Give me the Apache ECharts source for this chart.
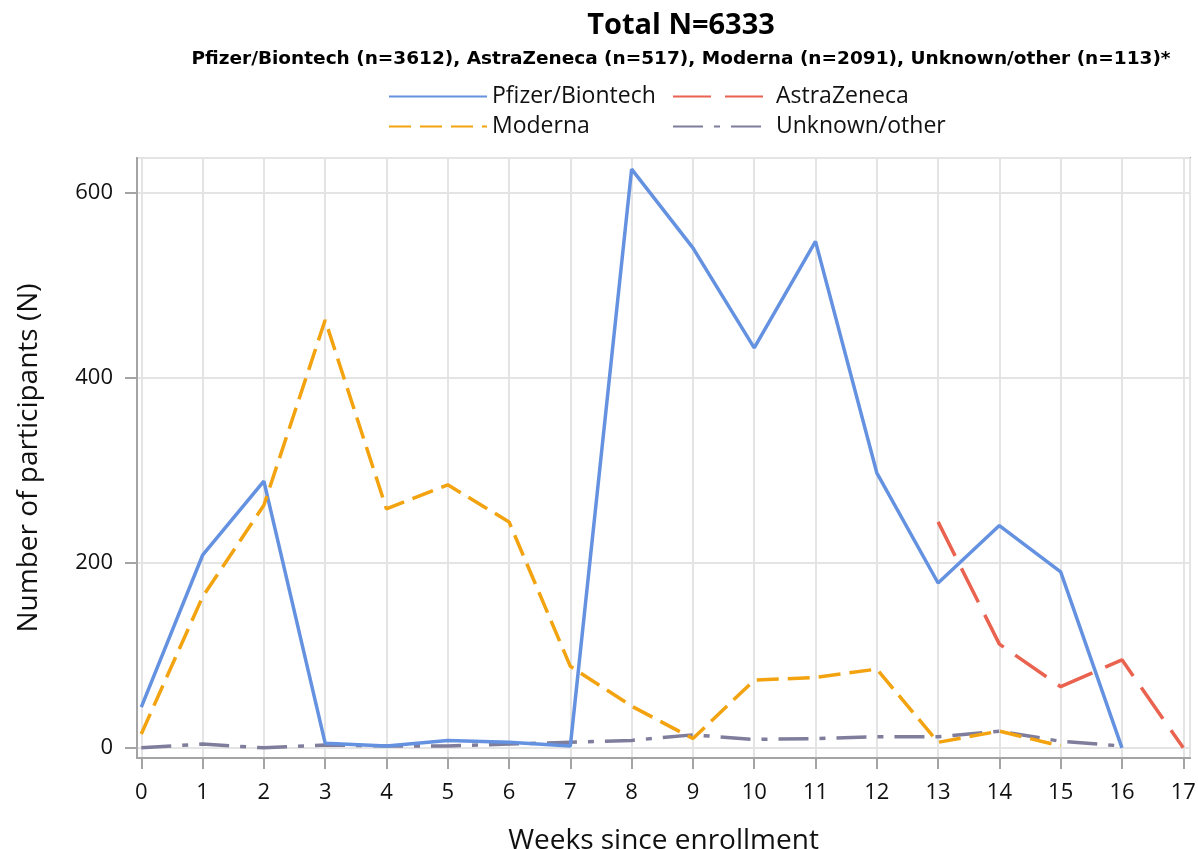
<!DOCTYPE html>
<html>
<head>
<meta charset="utf-8">
<script src="https://cdn.jsdelivr.net/npm/echarts@6/dist/echarts.min.js"></script>
<style>
  html, body { margin: 0; padding: 0; background: #fff; }
  #main { width: 1198px; height: 849px; }
</style>
</head>
<body>
<div id="main"></div>
<script>
// weeks since enrollment (x ticks)
var weeks = [0, 1, 2, 3, 4, 5, 6, 7, 8, 9, 10, 11, 12, 13, 14, 15, 16, 17];
var yTicks = [0, 200, 400, 600];

// number of participants per week, null = no point
var pfizer      = [44, 208, 288, 5, 2, 8, 6, 2, 625, 540, 432, 547, 297, 178, 240, 190, 0, null];
var astraZeneca = [null, null, null, null, null, null, null, null, null, null, null, null, null, 244, 112, 66, 95, 0];
var moderna     = [15, 163, 262, 462, 258, 284, 244, 88, 45, 10, 73, 76, 85, 6, 18, 2, null, null];
var unknown     = [0, 4, 0, 3, 2, 2, 4, 6, 8, 14, 9, 10, 12, 12, 18, 7, 2, null];

var FONT = '"Open Sans", "Liberation Sans", sans-serif';
var AXIS_GREY = '#a4a4a4';

// turn a value list into [week, value] pairs
function pairs(arr) {
  var out = [];
  for (var i = 0; i < arr.length; i++) {
    if (arr[i] !== null) out.push([weeks[i], arr[i]]);
  }
  return out;
}

function lineSeries(name, data, color, dash) {
  return {
    name: name,
    type: 'line',
    data: pairs(data),
    symbol: 'none',
    smooth: false,
    lineStyle: { color: color, width: 3.5, type: dash },
    itemStyle: { color: color },
    emphasis: { disabled: true }
  };
}

// legend column, no marker dot on the line sample
function legendCol(names, left) {
  return {
    data: names,
    orient: 'vertical',
    left: left,
    top: 80,
    itemWidth: 98,
    itemHeight: 14,
    itemGap: 7,
    itemStyle: { opacity: 0 },
    textStyle: { fontSize: 23, color: '#111', fontFamily: FONT }
  };
}

var chart = echarts.init(document.getElementById('main'));
chart.setOption({
  animation: false,
  textStyle: { fontFamily: FONT },
  title: {
    text: 'Total N=6333',
    subtext: 'Pfizer/Biontech (n=3612), AstraZeneca (n=517), Moderna (n=2091), Unknown/other (n=113)*',
    left: 676,
    top: 6,
    textAlign: 'center',
    itemGap: 10,
    textStyle: { fontFamily: FONT, fontWeight: 'bold', fontSize: 29, color: '#000' },
    subtextStyle: { fontFamily: '"DejaVu Sans", sans-serif', fontWeight: 'bold', fontSize: 18.5, color: '#000' }
  },
  legend: [
    legendCol(['Pfizer/Biontech', 'Moderna'], 383),
    legendCol(['AstraZeneca', 'Unknown/other'], 667)
  ],
  grid: {
    left: 137,
    right: 8,
    top: 158,
    bottom: 91,
    outerBoundsMode: 'none',
    show: true,
    borderColor: AXIS_GREY,
    borderWidth: 2
  },
  xAxis: {
    type: 'value',
    min: -0.07,
    max: 17.11,
    splitNumber: 17,
    name: 'Weeks since enrollment',
    nameLocation: 'middle',
    nameGap: 69,
    nameTextStyle: { fontSize: 28, color: '#111' },
    axisLine: { show: true, onZero: false, lineStyle: { color: AXIS_GREY, width: 2 } },
    axisTick: { show: true, length: 11, lineStyle: { color: AXIS_GREY, width: 2 } },
    axisLabel: {
      fontSize: 22,
      color: '#111',
      margin: 24,
      showMinLabel: false,
      showMaxLabel: false,
      formatter: function (v) { return weeks.indexOf(v) >= 0 ? String(v) : ''; }
    },
    splitLine: { show: true, lineStyle: { color: '#e4e4e4', width: 2 } }
  },
  yAxis: {
    type: 'value',
    min: -11,
    max: 637,
    splitNumber: 3,
    name: 'Number of participants (N)',
    nameLocation: 'middle',
    nameGap: 94,
    nameTextStyle: { fontSize: 28, color: '#111' },
    axisLine: { show: true, onZero: false, lineStyle: { color: AXIS_GREY, width: 2 } },
    axisTick: { show: true, length: 12, lineStyle: { color: AXIS_GREY, width: 2 } },
    axisLabel: {
      fontSize: 22,
      color: '#111',
      margin: 24,
      showMinLabel: false,
      showMaxLabel: false,
      formatter: function (v) { return yTicks.indexOf(v) >= 0 ? String(v) : ''; }
    },
    splitLine: { show: true, lineStyle: { color: '#e4e4e4', width: 2 } }
  },
  series: [
    lineSeries('Unknown/other', unknown, '#7f7d9c', [30, 11, 6, 11]),
    lineSeries('Pfizer/Biontech', pfizer, '#6492e0', 'solid'),
    lineSeries('Moderna', moderna, '#f2a30f', [22, 9]),
    lineSeries('AstraZeneca', astraZeneca, '#ea6350', [38, 14])
  ]
});
</script>
</body>
</html>
